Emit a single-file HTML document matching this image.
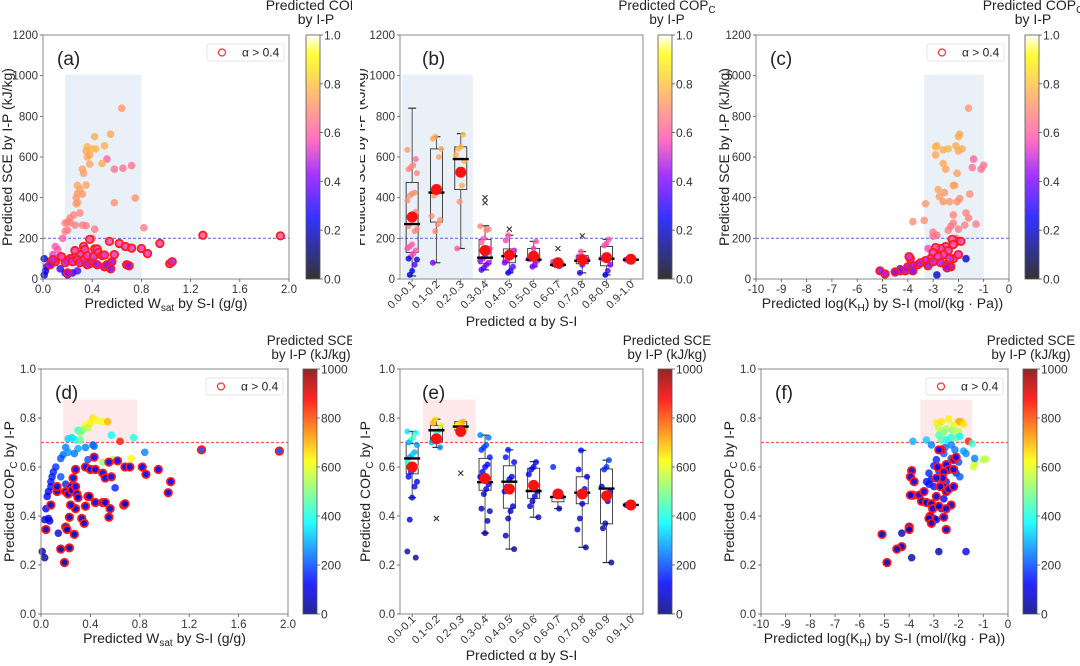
<!DOCTYPE html>
<html><head><meta charset="utf-8"><style>
html,body{margin:0;padding:0;background:#fff;}
svg{display:block;font-family:"Liberation Sans",Arial,sans-serif;}
</style></head><body>
<svg id="fig" width="1080" height="666" viewBox="0 0 1080 666" xmlns="http://www.w3.org/2000/svg"></svg>
<script>
// ---------- DATA ----------
const ringLabel = "α > 0.4";
const wsatTicks = [0, 0.4, 0.8, 1.2, 1.6, 2.0];
const khTicks = [-10,-9,-8,-7,-6,-5,-4,-3,-2,-1,0];
const sceTicks = [0,200,400,600,800,1000,1200];
const copTicks = [0,0.2,0.4,0.6,0.8,1.0];
const copBarTicks = [0,0.2,0.4,0.6,0.8,1.0];
const sceBarTicks = [0,200,400,600,800,1000];
const alphaCats = ["0.0-0.1","0.1-0.2","0.2-0.3","0.3-0.4","0.4-0.5","0.5-0.6","0.6-0.7","0.7-0.8","0.8-0.9","0.9-1.0"];

// panel a: [Wsat, SCE, COP, ring]
const aPts = [[0.64,840,.72,0],[0.42,700,.76,0],[0.55,712,.75,0],[0.36,650,.77,0],[0.40,640,.78,0],[0.43,640,.78,0],[0.50,655,.76,0],[0.35,630,.76,0],[0.38,610,.75,0],[0.36,600,.75,0],[0.52,590,.62,0],[0.38,565,.74,0],[0.48,568,.76,0],[0.58,540,.64,0],[0.65,545,.64,0],[0.72,558,.64,0],[0.32,540,.74,0],[0.33,520,.73,0],[0.28,460,.74,0],[0.35,462,.74,0],[0.30,440,.74,0],[0.28,420,.73,0],[0.32,418,.72,0],[0.27,400,.72,0],[0.28,375,.72,0],[0.27,370,.72,0],[0.58,375,.7,0],[0.75,398,.7,0],[0.30,325,.68,0],[0.25,315,.68,0],[0.22,300,.68,0],[0.20,280,.67,0],[0.18,275,.67,0],[0.22,278,.67,0],[0.20,240,.66,0],[0.18,235,.66,0],[0.26,265,.67,0],[0.32,265,.67,0],[0.35,262,.66,0],[0.42,245,.66,0],[0.40,200,.64,0],[0.16,200,.6,0],[0.82,252,.66,0],[0.1,160,.58,0],[0.12,145,.58,0],[0.08,120,.55,0],[0.11,100,.55,0],[0.14,115,.56,0],[0.06,90,.5,0],[0.01,100,.2,0],[0.01,20,.2,0],[0.02,40,.22,0],[0.03,60,.3,0],[0.05,70,.35,0],[0.14,50,.3,0],[0.18,30,.25,0],[0.2,20,.25,0],[0.24,30,.3,0],[0.28,40,.35,0],
[0.38,195,.6,1],[0.54,185,.58,1],[0.62,175,.58,1],[0.67,160,.56,1],[0.72,152,.56,1],[0.8,150,.56,1],[0.95,175,.58,1],[0.85,125,.55,1],[1.3,215,.6,1],[1.93,212,.6,1],[0.42,148,.56,1],[0.44,148,.56,1],[0.33,160,.56,1],[0.34,145,.55,1],[0.45,130,.55,1],[0.3,120,.55,1],[0.48,115,.54,1],[0.50,118,.54,1],[0.25,105,.54,1],[0.22,100,.52,1],[0.20,90,.5,1],[0.24,85,.52,1],[0.28,95,.52,1],[0.3,80,.5,1],[0.35,80,.5,1],[0.38,75,.5,1],[0.40,85,.5,1],[0.44,70,.45,1],[0.50,60,.45,1],[0.53,60,.45,1],[0.56,85,.45,1],[0.58,120,.55,1],[0.68,70,.45,1],[0.7,65,.45,1],[1.03,75,.5,1],[1.05,85,.5,1],[0.18,80,.5,1],[0.2,30,.45,1],[0.15,110,.55,1],[0.10,85,.5,1],[0.06,70,.45,1],[0.08,95,.5,1],[0.34,100,.52,1],[0.36,115,.54,1],[0.26,140,.55,1],[0.52,70,.45,1],[0.55,50,.45,1],[0.36,70,.48,1],[0.41,110,.52,1]];

// panel c: [logKH, SCE, COP, ring]
const cPts = [[-1.6,840,.72,0],[-2.0,700,.76,0],[-1.95,712,.75,0],[-2.9,650,.77,0],[-2.85,655,.77,0],[-2.1,655,.76,0],[-2.4,640,.78,0],[-2.6,635,.76,0],[-1.85,640,.76,0],[-2.0,630,.75,0],[-2.9,610,.75,0],[-2.6,568,.76,0],[-2.5,540,.74,0],[-2.05,520,.73,0],[-1.4,590,.62,0],[-1.45,548,.64,0],[-1.0,560,.64,0],[-1.1,540,.64,0],[-2.2,460,.74,0],[-2.15,460,.74,0],[-2.8,440,.74,0],[-2.75,405,.73,0],[-2.55,425,.72,0],[-2.35,380,.72,0],[-2.6,380,.72,0],[-1.95,395,.7,0],[-2.05,380,.7,0],[-3.3,370,.72,0],[-1.55,418,.7,0],[-2.2,315,.68,0],[-1.7,325,.68,0],[-1.6,300,.67,0],[-2.2,275,.67,0],[-1.3,270,.66,0],[-1.75,265,.67,0],[-2.3,260,.66,0],[-2.4,240,.66,0],[-3.0,230,.66,0],[-3.8,282,.7,0],[-3.35,288,.7,0],[-3.0,210,.64,0],[-2.85,215,.64,0],[-2.0,245,.66,0],[-2.1,200,.6,0],[-3.2,150,.56,0],[-1.7,100,.2,0],[-2.85,20,.2,0],[-4.3,50,.25,0],[-3.85,40,.25,0],[-4.5,30,.3,0],
[-2.05,185,.58,1],[-2.25,195,.6,1],[-2.2,170,.58,1],[-2.5,160,.56,1],[-2.7,150,.56,1],[-2.9,155,.56,1],[-3.0,130,.55,1],[-2.4,140,.55,1],[-2.6,120,.54,1],[-2.8,110,.54,1],[-3.1,100,.52,1],[-3.3,90,.5,1],[-3.5,80,.5,1],[-3.6,70,.48,1],[-3.8,65,.46,1],[-3.9,100,.52,1],[-3.95,110,.52,1],[-4.0,60,.45,1],[-4.1,40,.45,1],[-4.3,40,.45,1],[-4.5,35,.45,1],[-4.9,25,.45,1],[-5.1,40,.45,1],[-3.8,40,.45,1],[-2.3,60,.45,1],[-2.5,70,.46,1],[-2.7,80,.48,1],[-3.2,65,.46,1],[-3.0,85,.5,1],[-2.2,100,.52,1],[-2.0,120,.54,1],[-1.9,185,.58,1],[-2.35,100,.52,1],[-2.45,55,.45,1]];

// panel d: [Wsat, COP, SCE, ring]
const dPts = [[0.42,0.80,650,0],[0.4,0.78,640,0],[0.45,0.79,620,0],[0.5,0.785,620,0],[0.54,0.785,700,0],[0.36,0.77,620,0],[0.34,0.75,500,0],[0.3,0.75,420,0],[0.32,0.74,500,0],[0.38,0.76,560,0],[0.28,0.71,380,0],[0.22,0.715,330,0],[0.25,0.72,350,0],[0.32,0.71,480,0],[0.57,0.73,380,0],[0.75,0.72,400,0],[0.64,0.705,850,0],[0.2,0.68,250,0],[0.18,0.65,230,0],[0.22,0.66,270,0],[0.3,0.675,290,0],[0.36,0.68,250,0],[0.42,0.69,220,0],[0.43,0.685,230,0],[0.27,0.655,240,0],[0.16,0.635,200,0],[0.38,0.63,200,0],[0.84,0.66,250,0],[0.12,0.6,170,0],[0.1,0.58,160,0],[0.09,0.56,150,0],[0.08,0.54,150,0],[0.08,0.52,140,0],[0.06,0.5,130,0],[0.05,0.48,120,0],[0.04,0.43,110,0],[0.03,0.385,100,0],[0.06,0.39,100,0],[0.07,0.38,100,0],[0.14,0.33,100,0],[0.01,0.255,40,0],[0.03,0.23,30,0],[0.16,0.56,200,0],[0.2,0.53,150,0],[0.6,0.515,150,0],[0.5,0.62,520,0],[0.58,0.63,540,0],[0.7,0.6,560,0],[0.73,0.635,620,0],
[0.43,0.64,120,1],[0.55,0.62,120,1],[0.62,0.625,120,1],[0.68,0.6,110,1],[0.72,0.6,110,1],[0.82,0.6,110,1],[0.95,0.59,120,1],[0.85,0.57,100,1],[1.05,0.54,100,1],[1.03,0.495,90,1],[1.3,0.67,200,1],[1.93,0.665,200,1],[0.36,0.6,120,1],[0.4,0.59,110,1],[0.44,0.59,110,1],[0.5,0.575,110,1],[0.52,0.555,110,1],[0.57,0.56,110,1],[0.28,0.59,110,1],[0.26,0.555,100,1],[0.24,0.52,100,1],[0.2,0.5,90,1],[0.22,0.49,90,1],[0.25,0.505,90,1],[0.28,0.52,90,1],[0.29,0.49,90,1],[0.3,0.475,90,1],[0.36,0.44,80,1],[0.38,0.48,80,1],[0.39,0.48,80,1],[0.44,0.455,80,1],[0.5,0.455,80,1],[0.52,0.455,80,1],[0.56,0.43,70,1],[0.55,0.395,70,1],[0.67,0.445,70,1],[0.68,0.45,70,1],[0.33,0.39,60,1],[0.35,0.37,60,1],[0.28,0.43,70,1],[0.24,0.445,70,1],[0.23,0.395,60,1],[0.2,0.355,50,1],[0.21,0.345,50,1],[0.27,0.325,50,1],[0.16,0.265,40,1],[0.23,0.27,40,1],[0.19,0.21,30,1],[0.04,0.345,50,1],[0.08,0.445,70,1],[0.13,0.5,80,1],[0.13,0.52,80,1]];

// panel f: [logKH, COP, SCE, ring]
const fPts = [[-2.9,0.78,640,0],[-2.7,0.785,650,0],[-2.4,0.795,640,0],[-2.0,0.785,720,0],[-1.9,0.785,700,0],[-1.8,0.775,650,0],[-2.2,0.77,600,0],[-2.8,0.76,560,0],[-2.5,0.755,540,0],[-2.25,0.75,520,0],[-2.6,0.74,500,0],[-2.0,0.745,560,0],[-2.8,0.73,460,0],[-2.3,0.72,400,0],[-2.1,0.72,480,0],[-1.95,0.725,380,0],[-2.5,0.71,380,0],[-2.7,0.71,450,0],[-3.3,0.71,330,0],[-3.85,0.705,300,0],[-1.6,0.705,850,0],[-1.45,0.695,420,0],[-1.0,0.63,560,0],[-0.9,0.632,560,0],[-1.4,0.6,580,0],[-1.35,0.615,580,0],[-1.35,0.635,250,0],[-3.1,0.69,250,0],[-2.55,0.68,230,0],[-2.3,0.69,250,0],[-2.15,0.67,240,0],[-1.8,0.665,290,0],[-1.7,0.655,270,0],[-2.6,0.655,210,0],[-2.3,0.635,200,0],[-2.0,0.62,200,0],[-2.4,0.6,170,0],[-2.1,0.575,170,0],[-1.95,0.56,210,0],[-3.0,0.605,150,0],[-2.8,0.585,150,0],[-3.2,0.575,150,0],[-3.3,0.54,140,0],[-3.2,0.53,140,0],[-3.1,0.55,140,0],[-3.0,0.52,140,0],[-2.9,0.63,150,0],[-2.5,0.54,150,0],[-2.6,0.47,120,0],[-2.7,0.43,110,0],[-2.9,0.385,100,0],[-3.0,0.39,100,0],[-2.8,0.255,40,0],[-1.7,0.255,100,0],[-3.9,0.23,40,0],[-4.3,0.33,60,0],
[-2.7,0.67,120,1],[-2.8,0.67,120,1],[-2.2,0.63,120,1],[-2.1,0.64,120,1],[-2.5,0.61,110,1],[-2.4,0.59,110,1],[-2.6,0.58,110,1],[-2.2,0.59,110,1],[-2.85,0.6,110,1],[-2.65,0.555,100,1],[-2.9,0.555,100,1],[-3.9,0.585,100,1],[-3.95,0.56,100,1],[-3.8,0.54,100,1],[-3.85,0.485,90,1],[-3.95,0.485,90,1],[-3.6,0.485,90,1],[-3.4,0.5,90,1],[-3.5,0.46,80,1],[-3.3,0.455,80,1],[-3.1,0.45,80,1],[-3.05,0.43,80,1],[-3.15,0.4,70,1],[-3.2,0.39,70,1],[-3.1,0.37,70,1],[-2.6,0.52,90,1],[-2.5,0.5,90,1],[-2.4,0.51,90,1],[-2.2,0.52,90,1],[-2.9,0.48,80,1],[-2.3,0.445,80,1],[-2.5,0.43,70,1],[-2.6,0.395,70,1],[-2.5,0.345,60,1],[-2.75,0.52,90,1],[-4.0,0.355,60,1],[-4.0,0.345,60,1],[-4.3,0.275,50,1],[-4.5,0.265,50,1],[-4.9,0.21,30,1],[-5.1,0.325,50,1],[-2.8,0.44,80,1]];

// panel b boxes: [q1, median, q3, whiskerLow, whiskerHigh, mean]
const bBoxes = [[130,270,475,15,840,305],[280,425,640,80,700,440],[440,590,650,150,715,525],[75,105,195,45,262,140],[80,112,148,30,215,118],[88,95,150,60,185,112],[62,70,80,58,85,80],[75,90,115,30,135,95],[65,100,160,20,195,105],[95,95,95,95,95,97]];
const bOutliers = [[],[],[],[400,375],[245],[],[150],[212],[],[]];
// panel b points per category: [SCE, COP]
const bPoints = [
[[635,.72],[590,.62],[560,.68],[550,.68],[540,.68],[520,.68],[425,.7],[420,.7],[410,.7],[385,.7],[330,.68],[320,.68],[300,.66],[260,.68],[245,.68],[235,.68],[170,.6],[160,.58],[150,.58],[140,.58],[125,.56],[110,.55],[100,.2],[95,.2],[70,.35],[40,.25],[20,.2]],
[[700,.75],[690,.75],[640,.75],[600,.73],[430,.72],[410,.72],[310,.7],[290,.7],[270,.7],[235,.68],[80,.4]],
[[710,.78],[650,.78],[640,.78],[610,.76],[580,.76],[460,.75],[380,.72],[150,.6]],
[[260,.68],[245,.68],[240,.68],[200,.6],[180,.6],[150,.55],[130,.5],[110,.5],[100,.48],[90,.45],[80,.45],[70,.4],[55,.38],[45,.33]],
[[215,.6],[190,.55],[140,.5],[120,.5],[110,.5],[90,.45],[80,.42],[60,.35],[40,.3],[30,.27]],
[[185,.6],[150,.55],[120,.5],[100,.48],[90,.47],[70,.42],[60,.4]],
[[85,.5],[70,.47],[62,.45]],
[[135,.6],[110,.5],[95,.45],[85,.43],[70,.36],[30,.28]],
[[195,.6],[175,.58],[165,.58],[100,.5],[70,.4],[40,.35],[20,.22]],
[[95,.44]]];

// panel e boxes: [q1, median, q3, whiskerLow, whiskerHigh, mean]
const eBoxes = [[.572,.635,.695,.475,.745,.6],[.705,.75,.77,.68,.795,.715],[.75,.765,.785,.745,.785,.745],[.505,.538,.635,.33,.73,.553],[.432,.54,.605,.265,.67,.51],[.472,.502,.595,.395,.622,.525],[.458,.478,.48,.43,.48,.49],[.45,.495,.56,.272,.668,.49],[.368,.512,.592,.21,.628,.482],[.445,.445,.445,.445,.445,.445]];
const eOutliers = [[],[0.39],[0.575],[],[],[],[],[],[],[]];
// panel e points per category: [COP, SCE]
const ePoints = [
[[.745,350],[.74,380],[.72,450],[.71,400],[.7,300],[.69,280],[.66,300],[.65,330],[.64,280],[.62,420],[.6,500],[.59,200],[.58,150],[.56,120],[.54,100],[.52,110],[.475,90],[.385,80],[.255,40],[.23,30]],
[[.795,650],[.78,700],[.77,600],[.75,440],[.74,420],[.72,380],[.7,300],[.68,250]],
[[.785,700],[.78,700],[.775,650],[.765,600],[.75,580]],
[[.73,250],[.72,240],[.69,200],[.68,190],[.67,170],[.64,150],[.61,130],[.6,120],[.58,110],[.56,100],[.53,100],[.51,80],[.49,80],[.43,60],[.42,60],[.38,55],[.33,45]],
[[.67,150],[.64,140],[.62,120],[.56,110],[.55,100],[.52,100],[.5,90],[.44,80],[.42,70],[.39,60],[.32,40],[.265,30]],
[[.62,120],[.6,110],[.59,100],[.57,100],[.5,90],[.48,80],[.46,80],[.44,70],[.395,60]],
[[.6,150],[.48,70],[.43,60]],
[[.668,135],[.59,110],[.56,100],[.51,90],[.45,80],[.39,70],[.345,60],[.272,30]],
[[.628,195],[.6,170],[.59,160],[.52,100],[.5,90],[.46,70],[.37,50],[.35,40],[.21,20]],
[[.445,95]]];

// shaded target regions [x0,x1,y0,y1] and threshold lines
const aRegion=[0.18,0.8,0,1005], bRegion=[-0.42,2.5,0,1005], cRegion=[-3.35,-1.0,0,1005];
const dRegion=[0.18,0.78,0.7,0.875], eRegion=[0.45,2.6,0.7,0.875], fRegion=[-3.55,-1.45,0.7,0.875];
const sceThreshold = 200, copThreshold = 0.7;

// ---------- RENDERING ----------
const NS="http://www.w3.org/2000/svg";
const svg=document.getElementById('fig');
function mk(tag,attrs,parent){const e=document.createElementNS(NS,tag);for(const k in attrs)e.setAttribute(k,attrs[k]);(parent||svg).appendChild(e);return e;}
function clip(v){return Math.max(0,Math.min(1,v));}
function gnuplot2(x){x=clip(x);const r=clip(x/0.32-0.78125),g=clip(2*x-0.84);let b;
 if(x<0.25)b=4*x;else if(x<0.42)b=1;else if(x<0.92)b=-2*x+1.84;else b=x/0.08-11.5;b=clip(b);
 return `rgb(${Math.round(r*255)},${Math.round(g*255)},${Math.round(b*255)})`;}
function jet(x){x=clip(x);const r=clip(1.5-Math.abs(4*x-3)),g=clip(1.5-Math.abs(4*x-2)),b=clip(1.5-Math.abs(4*x-1));
 return `rgb(${Math.round(r*255)},${Math.round(g*255)},${Math.round(b*255)})`;}
function scale(d0,d1,r0,r1){return v=>r0+(v-d0)/(d1-d0)*(r1-r0);}
const defs=mk('defs',{});

function axesFrame(g,L,R,T,B,xs,ys,xticks,yticks,xfmt,yfmt,name){
 yticks.forEach(t=>{const y=ys(t);
  const tk=mk('line',{x1:L-3,x2:L,y1:y,y2:y,stroke:'#555','stroke-width':0.8},g);
  
  
  const tx=mk('text',{x:L-5,y:y+4,'text-anchor':'end','font-size':11.5,fill:'#333'},g);
  
  
  tx.textContent=yfmt(t);});
 if(xticks) xticks.forEach(t=>{const x=xs(t);
  const tk=mk('line',{x1:x,x2:x,y1:B,y2:B+3,stroke:'#555','stroke-width':0.8},g);
  
  
  const tx=mk('text',{x:x,y:B+14,'text-anchor':'middle','font-size':11.5,fill:'#333'},g);
  
  
  tx.textContent=xfmt(t);});
}
function spine(g,L,R,T,B,name){
 const r=mk('rect',{x:L,y:T,width:R-L,height:B-T,fill:'none',stroke:'#8a8a8a','stroke-width':1},g);
 
 
}
function region(g,xs,ys,rg,fill,name){
 const r=mk('rect',{x:xs(rg[0]),y:ys(rg[3]),width:xs(rg[1])-xs(rg[0]),height:ys(rg[2])-ys(rg[3]),fill:fill},g);
 
 
}
function hline(g,L,R,y,color,name){
 const l=mk('line',{x1:L,x2:R,y1:y,y2:y,stroke:color,'stroke-width':1.2,'stroke-dasharray':'3,2'},g);
 
 
}
function legend(g,x,y,name){
 const lg=mk('g',{},g);
 
 
 mk('rect',{x:x,y:y,width:77,height:17,rx:2,fill:'#fff',stroke:'#ddd','stroke-width':0.8},lg);
 const c=mk('circle',{cx:x+15,cy:y+8.5,r:3.5,fill:'none',stroke:'#ff3030','stroke-width':1.2},lg);
 
 
 const t=mk('text',{x:x+35,y:y+12.5,'font-size':12,fill:'#222'},lg);
 
 
 t.textContent=ringLabel;
}
function label(g,x,y,txt,size,rot,anchor,name){
 const t=mk('text',{x:x,y:y,'font-size':size,fill:'#222','text-anchor':anchor||'middle'},g);
 if(rot) t.setAttribute('transform',`rotate(${rot},${x},${y})`);
 
 
 t.innerHTML=txt;return t;
}
function colorbar(g,x,T,B,cmap,ticks,tmin,tmax,fmt,name,op){
 const id='grad-'+name;
 const lg=mk('linearGradient',{id:id,x1:0,y1:1,x2:0,y2:0},defs);
 for(let i=0;i<=40;i++){mk('stop',{offset:(i/40),'stop-color':cmap(i/40)},lg);}
 const r=mk('rect',{x:x,y:T,width:14,height:B-T,fill:`url(#${id})`,'fill-opacity':op,stroke:'#555','stroke-width':0.8},g);
 
 
 const ys=scale(tmin,tmax,B,T);
 ticks.forEach(t=>{const y=ys(t);
  mk('line',{x1:x+14,x2:x+17,y1:y,y2:y,stroke:'#555','stroke-width':0.8},g);
  const tx=mk('text',{x:x+18,y:y+4.5,'font-size':12,fill:'#333'},g);
  
  
  tx.textContent=fmt(t);});
}
function dot(g,cx,cy,fill,ring,r,name){
 const c=mk('circle',{cx:cx,cy:cy,r:r||3.8,fill:fill,'fill-opacity':ring?0.9:0.8},g);
 if(ring){c.setAttribute('stroke','#ff1a1a');c.setAttribute('stroke-width',1.7);}
 
 
 return c;
}
const f1=v=>v.toFixed(1), f0=v=>String(v);

function clipGroup(x,y,w,h,name){
 const id='clip-'+name;
 const cp=mk('clipPath',{id:id},defs);mk('rect',{x:x,y:y,width:w,height:h},cp);
 const g=mk('g',{'clip-path':`url(#${id})`});
 
 
 return g;
}

function scatterPanel(o){
 const g=clipGroup(o.cx,o.cy,o.cw,o.ch,o.name);
 const xs=scale(o.xd[0],o.xd[1],o.L,o.R), ys=scale(o.yd[0],o.yd[1],o.B,o.T);
 region(g,xs,ys,o.region,o.regionFill,o.name);
 hline(g,o.L,o.R,ys(o.thr),o.thrColor,o.name);
 o.pts.filter(p=>!p[3]).forEach(p=>dot(g,xs(p[0]),ys(p[1]),o.cmap(p[2]/o.cmax),0,3.8,o.name+'-point'));
 o.pts.filter(p=>p[3]).forEach(p=>dot(g,xs(p[0]),ys(p[1]),o.cmap(p[2]/o.cmax),1,3.8,o.name+'-point-high-alpha'));
 spine(g,o.L,o.R,o.T,o.B,o.name);
 axesFrame(g,o.L,o.R,o.T,o.B,xs,ys,o.xticks,o.yticks,o.xfmt,o.yfmt,o.name);
 label(g,o.L+14,o.T+30,'('+o.name+')',19,0,'start',o.name+'-panel-label');
 legend(g,o.R-82,o.T+9,o.name);
 label(g,o.ylx,(o.T+o.B)/2,o.ylabel,14,-90,'middle',o.name+'-y-axis-title');
 label(g,(o.L+o.R)/2,o.B+29,o.xlabel,14,0,'middle',o.name+'-x-axis-title');
 colorbar(g,o.cbx,o.T,o.B,o.cmap,o.cbTicks,0,o.cmax,o.cbfmt,o.name,o.cbop);
 label(g,o.cbtx,o.cbty,o.cbt1,o.cbfs,0,'middle',o.name+'-colorbar-title');
 label(g,o.cbtx,o.cbty+14,o.cbt2,o.cbfs,0,'middle',o.name+'-colorbar-title-line2');
}
function boxPanel(o){
 const g=clipGroup(o.cx,o.cy,o.cw,o.ch,o.name);
 const xs=scale(-0.5,9.5,o.L,o.R), ys=scale(o.yd[0],o.yd[1],o.B,o.T);
 region(g,xs,ys,o.region,o.regionFill,o.name);
 hline(g,o.L,o.R,ys(o.thr),o.thrColor,o.name);
 o.boxes.forEach((b,i)=>{
  const cx=xs(i);
  const bg=mk('g',{},g);
  
  
  mk('line',{x1:cx,x2:cx,y1:ys(b[3]),y2:ys(b[0]),stroke:'#555','stroke-width':1},bg);
  mk('line',{x1:cx,x2:cx,y1:ys(b[2]),y2:ys(b[4]),stroke:'#555','stroke-width':1},bg);
  mk('line',{x1:cx-4,x2:cx+4,y1:ys(b[3]),y2:ys(b[3]),stroke:'#333','stroke-width':1.2},bg);
  mk('line',{x1:cx-4,x2:cx+4,y1:ys(b[4]),y2:ys(b[4]),stroke:'#333','stroke-width':1.2},bg);
  mk('rect',{x:cx-6,y:ys(b[2]),width:12,height:Math.max(0.1,ys(b[0])-ys(b[2])),fill:'none',stroke:'#333','stroke-width':0.9},bg);
  o.points[i].forEach((p,j)=>{const jit=(((j*7+i*3)%9)-4)*1.2;
   dot(bg,cx+jit,ys(p[0]),o.cmap(p[1]/o.cmax),0,3,o.name+'-jitter-point');});
  o.outliers[i].forEach(v=>{const y=ys(v);
   const x1=mk('path',{d:`M${cx-2.5},${y-2.5}L${cx+2.5},${y+2.5}M${cx-2.5},${y+2.5}L${cx+2.5},${y-2.5}`,stroke:'#333','stroke-width':1.1},bg);
   
   });
  mk('line',{x1:cx-8,x2:cx+8,y1:ys(b[1]),y2:ys(b[1]),stroke:'#000','stroke-width':2.4},bg);
  const m=mk('circle',{cx:cx,cy:ys(b[5]),r:5.5,fill:'#ff1010'},bg);
  
  
  mk('line',{x1:cx,x2:cx,y1:o.B,y2:o.B+3,stroke:'#555','stroke-width':0.8},bg);
  const tx=mk('text',{x:cx+4,y:o.B+6,'font-size':11,fill:'#333','text-anchor':'end',transform:`rotate(-45,${cx+4},${o.B+6})`},bg);
  
  
  tx.textContent=alphaCats[i];
 });
 spine(g,o.L,o.R,o.T,o.B,o.name);
 axesFrame(g,o.L,o.R,o.T,o.B,xs,ys,null,o.yticks,null,o.yfmt,o.name);
 label(g,o.L+22,o.T+30,'('+o.name+')',19,0,'start',o.name+'-panel-label');
 label(g,o.ylx,(o.T+o.B)/2,o.ylabel,14,-90,'middle',o.name+'-y-axis-title');
 label(g,(o.L+o.R)/2,o.B+o.xtoff,'Predicted α by S-I',14,0,'middle',o.name+'-x-axis-title');
 colorbar(g,o.cbx,o.T,o.B,o.cmap,o.cbTicks,0,o.cmax,o.cbfmt,o.name,o.cbop);
 label(g,o.cbtx,o.cbty,o.cbt1,o.cbfs,0,'middle',o.name+'-colorbar-title');
 label(g,o.cbtx,o.cbty+14,o.cbt2,o.cbfs,0,'middle',o.name+'-colorbar-title-line2');
}

const yl1='Predicted SCE by I-P (kJ/kg)', yl2='Predicted COP<tspan font-size="10" dy="3">C</tspan><tspan dy="-3"> by I-P</tspan>';
const xlW='Predicted W<tspan font-size="10" dy="3">sat</tspan><tspan dy="-3"> by S-I (g/g)</tspan>';
const xlK='Predicted log(K<tspan font-size="10" dy="3">H</tspan><tspan dy="-3">) by S-I (mol/(kg · Pa))</tspan>';
const cbCop='Predicted COP<tspan font-size="10" dy="3">C</tspan>';
const blueFill='#e9f0f8', pinkFill='#fde9ea', blueLine='#6f6ff5', redLine='#ff5050';

scatterPanel({name:'a',cx:0,cy:0,cw:352,ch:333,L:43,R:289,T:35,B:279,xd:[0,2],yd:[0,1200],pts:aPts,cmap:gnuplot2,cmax:1,
 region:aRegion,regionFill:blueFill,thr:sceThreshold,thrColor:blueLine,xticks:wsatTicks,yticks:sceTicks,xfmt:f1,yfmt:f0,
 ylabel:yl1,xlabel:xlW,ylx:12,cbx:306,cbTicks:copBarTicks,cbfmt:f1,cbop:0.8,cbt1:cbCop,cbt2:'by I-P',cbtx:316,cbty:10,cbfs:14});
boxPanel({name:'b',cx:360,cy:0,cw:356,ch:333,L:400,R:643,T:35,B:279,yd:[0,1200],boxes:bBoxes,points:bPoints,outliers:bOutliers,cmap:gnuplot2,cmax:1,
 region:bRegion,regionFill:blueFill,thr:sceThreshold,thrColor:blueLine,yticks:sceTicks,yfmt:f0,ylabel:yl1,ylx:365,xtoff:47,
 cbx:658,cbTicks:copBarTicks,cbfmt:f1,cbop:0.8,cbt1:cbCop,cbt2:'by I-P',cbtx:667,cbty:10,cbfs:13.5});
scatterPanel({name:'c',cx:716,cy:0,cw:364,ch:333,L:756,R:1009,T:35,B:279,xd:[-10,0],yd:[0,1200],pts:cPts,cmap:gnuplot2,cmax:1,
 region:cRegion,regionFill:blueFill,thr:sceThreshold,thrColor:blueLine,xticks:khTicks,yticks:sceTicks,xfmt:f0,yfmt:f0,
 ylabel:yl1,xlabel:xlK,ylx:729,cbx:1025,cbTicks:copBarTicks,cbfmt:f1,cbop:0.8,cbt1:cbCop,cbt2:'by I-P',cbtx:1033,cbty:10,cbfs:14});
scatterPanel({name:'d',cx:0,cy:333,cw:352,ch:333,L:41,R:288,T:369,B:614,xd:[0,2],yd:[0,1],pts:dPts,cmap:jet,cmax:1000,
 region:dRegion,regionFill:pinkFill,thr:copThreshold,thrColor:redLine,xticks:wsatTicks,yticks:copTicks,xfmt:f1,yfmt:f1,
 ylabel:yl2,xlabel:xlW,ylx:14,cbx:303,cbTicks:sceBarTicks,cbfmt:f0,cbop:0.85,cbt1:'Predicted SCE',cbt2:'by I-P (kJ/kg)',cbtx:311,cbty:345,cbfs:13.5});
boxPanel({name:'e',cx:360,cy:333,cw:356,ch:333,L:400,R:643,T:369,B:614,yd:[0,1],boxes:eBoxes,points:ePoints,outliers:eOutliers,cmap:jet,cmax:1000,
 region:eRegion,regionFill:pinkFill,thr:copThreshold,thrColor:redLine,yticks:copTicks,yfmt:f1,ylabel:yl2,ylx:370,xtoff:46,
 cbx:658,cbTicks:sceBarTicks,cbfmt:f0,cbop:0.85,cbt1:'Predicted SCE',cbt2:'by I-P (kJ/kg)',cbtx:667,cbty:345,cbfs:13.5});
scatterPanel({name:'f',cx:716,cy:333,cw:364,ch:333,L:761,R:1008,T:369,B:614,xd:[-10,0],yd:[0,1],pts:fPts,cmap:jet,cmax:1000,
 region:fRegion,regionFill:pinkFill,thr:copThreshold,thrColor:redLine,xticks:khTicks,yticks:copTicks,xfmt:f0,yfmt:f1,
 ylabel:yl2,xlabel:xlK,ylx:734,cbx:1023,cbTicks:sceBarTicks,cbfmt:f0,cbop:0.85,cbt1:'Predicted SCE',cbt2:'by I-P (kJ/kg)',cbtx:1031,cbty:345,cbfs:13.5});
</script>
</body></html>
